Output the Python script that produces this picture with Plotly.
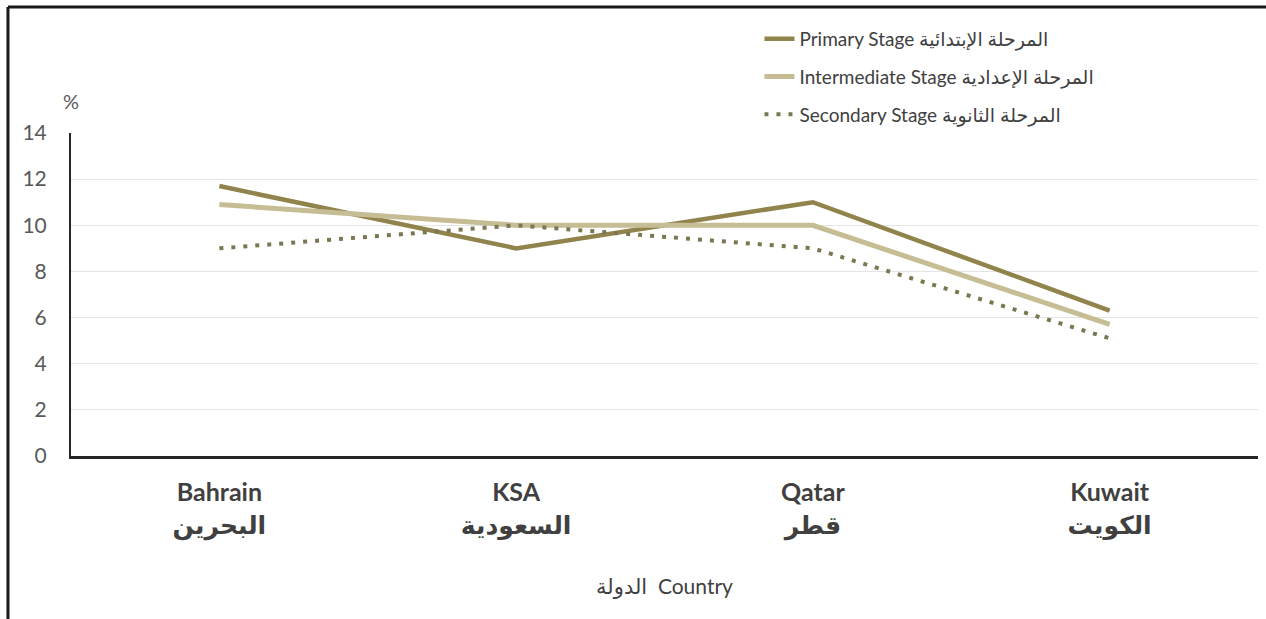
import plotly.graph_objects as go

# Countries (English / Arabic) shown on the category axis
countries_en = ["Bahrain", "KSA", "Qatar", "Kuwait"]
countries_ar = ["البحرين", "السعودية", "قطر", "الكويت"]

# Percentages per school stage
primary = [11.7, 9.0, 11.0, 6.3]
intermediate = [10.9, 10.0, 10.0, 5.7]
secondary = [9.0, 10.0, 9.0, 5.1]

stage_names = [
    "Primary Stage المرحلة الإبتدائية",
    "Intermediate Stage المرحلة الإعدادية",
    "Secondary Stage المرحلة الثانوية",
]

y_ticks = [0, 2, 4, 6, 8, 10, 12, 14]

categories = [f"<b>{en}<br>{ar}</b>" for en, ar in zip(countries_en, countries_ar)]

fig = go.Figure()
fig.add_trace(go.Scatter(
    x=categories, y=primary, mode="lines", name=stage_names[0],
    line=dict(color="#90834c", width=4.5), legendgroup="p",
))
fig.add_trace(go.Scatter(
    x=categories, y=intermediate, mode="lines", name=stage_names[1],
    line=dict(color="#c6bd95", width=5), legendgroup="i",
))
fig.add_trace(go.Scatter(
    x=categories, y=secondary, mode="lines", name=stage_names[2],
    line=dict(color="#7b7752", width=4, dash="4px,8px"), legendgroup="s",
))

font_main = "Lato, 'DejaVu Sans', sans-serif"

fig.update_layout(
    width=1266, height=619,
    margin=dict(l=71, r=8, t=133, b=163, autoexpand=False),
    paper_bgcolor="white", plot_bgcolor="white",
    font=dict(family=font_main, color="#595959"),
    showlegend=True,
    legend=dict(
        x=0.58, y=1.35, xanchor="left", yanchor="top",
        font=dict(size=19, color="#404040"),
        tracegroupgap=10, bgcolor="rgba(0,0,0,0)",
    ),
    xaxis=dict(
        type="category", range=[-0.5, 3.5],
        showline=True, linecolor="#262626", linewidth=3,
        showgrid=False, ticks="", ticklabelstandoff=12,
        tickfont=dict(size=25, color="#404040"),
        title=dict(text="الدولة  Country", font=dict(size=21, color="#404040"), standoff=40),
    ),
    yaxis=dict(
        range=[0, 14], tickvals=y_ticks,
        showline=True, linecolor="#262626", linewidth=2,
        showgrid=True, gridcolor="#e4e4e4", gridwidth=1,
        zeroline=False,
        ticks="", ticklabelstandoff=18,
        tickfont=dict(size=21, color="#595959"),
    ),
    annotations=[dict(
        text="%", xref="paper", yref="paper", x=0, y=1.1,
        xanchor="center", yanchor="middle", showarrow=False,
        font=dict(size=20, color="#595959"),
    )],
    shapes=[
        # frame around the figure (left and top edges)
        dict(type="line", xref="paper", yref="paper", x0=-0.0531, x1=-0.0531,
             y0=-0.6, y1=1.39, line=dict(color="#1a1a1a", width=3)),
        dict(type="line", xref="paper", yref="paper", x0=-0.0531, x1=1.02,
             y0=1.39, y1=1.39, line=dict(color="#1a1a1a", width=3)),
    ],
)

fig.write_html("out.html")
